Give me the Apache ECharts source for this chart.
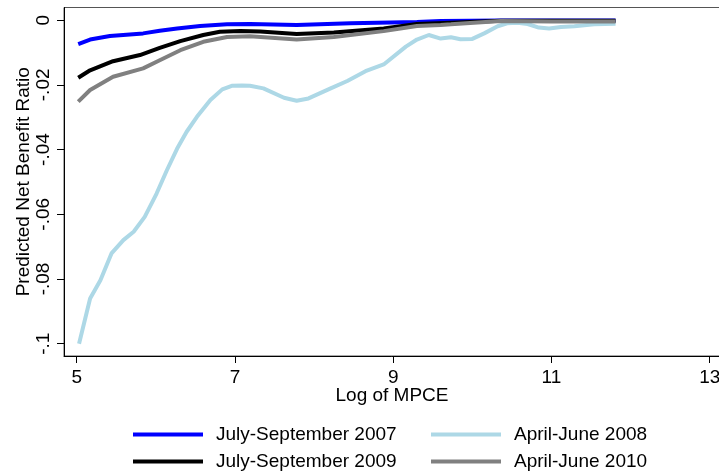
<!DOCTYPE html>
<html>
<head>
<meta charset="utf-8">
<script src="https://cdn.jsdelivr.net/npm/echarts@6/dist/echarts.min.js"></script>
<style>
  html, body { margin: 0; padding: 0; background: #fff; }
  #chart { width: 719px; height: 474px; }
</style>
</head>
<body>
<div id="chart"></div>
<script>
// predicted net benefit ratio against log of MPCE, four survey rounds

var seriesNames = ['July-September 2007', 'April-June 2008', 'July-September 2009', 'April-June 2010'];

var x2007 = [5.02, 5.17, 5.42, 5.84, 6.05, 6.27, 6.56, 6.90, 7.19, 7.78, 8.46, 9.30, 9.60, 10.36, 11.0, 11.81];
var y2007 = [-0.0074, -0.0060, -0.0049, -0.0041, -0.0033, -0.0026, -0.0018, -0.0013, -0.0012, -0.0015, -0.0010, -0.0006, -0.0003, -0.0001, -0.0001, -0.0001];

var x2008 = [5.03, 5.17, 5.30, 5.44, 5.59, 5.72, 5.86, 6.01, 6.14, 6.27, 6.39, 6.52, 6.69, 6.84, 6.96, 7.09,
             7.19, 7.36, 7.62, 7.78, 7.93, 8.21, 8.42, 8.65, 8.88, 9.16, 9.30, 9.45, 9.60, 9.73, 9.85, 10.0,
             10.15, 10.32, 10.44, 10.57, 10.70, 10.84, 10.97, 11.12, 11.29, 11.54, 11.81];
var y2008 = [-0.1000, -0.0860, -0.0804, -0.0721, -0.0680, -0.0654, -0.0608, -0.0536, -0.0464, -0.0397, -0.0345, -0.0299, -0.0247, -0.0214, -0.0203, -0.0202,
             -0.0203, -0.0211, -0.0240, -0.0249, -0.0242, -0.0211, -0.0188, -0.0158, -0.0137, -0.0082, -0.0060, -0.0046, -0.0057, -0.0053, -0.0059, -0.0058,
             -0.0041, -0.0019, -0.0010, -0.0008, -0.0012, -0.0023, -0.0026, -0.0021, -0.0019, -0.0013, -0.0011];

var x2009 = [5.02, 5.17, 5.46, 5.80, 6.05, 6.31, 6.60, 6.81, 7.07, 7.32, 7.78, 8.25, 8.88, 9.30, 9.73, 10.36, 11.0, 11.81];
var y2009 = [-0.0178, -0.0155, -0.0127, -0.0108, -0.0086, -0.0065, -0.0046, -0.0036, -0.0034, -0.0035, -0.0043, -0.0038, -0.0026, -0.0012, -0.0008, -0.0002, -0.0002, -0.0002];

var x2010 = [5.02, 5.17, 5.46, 5.84, 6.05, 6.31, 6.60, 6.90, 7.19, 7.78, 8.25, 8.88, 9.30, 9.60, 9.73, 10.36, 11.0, 11.81];
var y2010 = [-0.0252, -0.0216, -0.0175, -0.0149, -0.0124, -0.0093, -0.0067, -0.0052, -0.0050, -0.0060, -0.0052, -0.0034, -0.0018, -0.0015, -0.0013, -0.0003, -0.0004, -0.0004];

var xTicks = [5, 7, 9, 11, 13];
var yTicks = [0, -0.02, -0.04, -0.06, -0.08, -0.1];

var colors = ['#0000ff', '#add8e6', '#000000', '#808080'];
var font = 'Liberation Sans, Arial, Helvetica, sans-serif';

function pairs(xs, ys) {
  return xs.map(function (x, i) { return [x, ys[i]]; });
}

function yLabel(v) {
  if (v === 0) return '0';
  return ('' + v).replace('0.', '.');
}

var allData = [pairs(x2007, y2007), pairs(x2008, y2008), pairs(x2009, y2009), pairs(x2010, y2010)];

// legend slots: two columns, two rows
var legendPos = [
  { left: 133, top: 425 },
  { left: 431, top: 425 },
  { left: 133, top: 452 },
  { left: 431, top: 452 }
];

var myChart = echarts.init(document.getElementById('chart'));
var option = {
  animation: false,
  backgroundColor: '#fff',
  grid: {
    left: 64, top: 7.5, right: -1, bottom: 118,
    outerBoundsMode: 'none',
    containLabel: false,
    show: true, borderColor: '#555', borderWidth: 1
  },
  legend: seriesNames.map(function (n, i) {
    return {
      data: [n],
      left: legendPos[i].left,
      top: legendPos[i].top,
      icon: 'rect',
      itemWidth: 70,
      itemHeight: 4,
      itemGap: 0,
      padding: 0,
      textStyle: { fontSize: 19, color: '#000', fontFamily: font, padding: [0, 0, 0, 8] }
    };
  }),
  xAxis: {
    type: 'value',
    min: 4.84, max: 13.13,
    name: 'Log of MPCE',
    nameLocation: 'middle',
    nameGap: 30,
    nameMoveOverlap: false,
    nameTextStyle: { fontSize: 19, color: '#000', fontFamily: font },
    splitLine: { show: false },
    axisLine: { onZero: false, lineStyle: { color: '#000', width: 1 } },
    axisTick: { customValues: xTicks, length: 7, lineStyle: { color: '#000' } },
    axisLabel: { customValues: xTicks, margin: 12, fontSize: 19, color: '#000', fontFamily: font }
  },
  yAxis: {
    type: 'value',
    min: -0.1038, max: 0.0039,
    name: 'Predicted Net Benefit Ratio',
    nameLocation: 'middle',
    nameRotate: 90,
    nameGap: 31,
    nameMoveOverlap: false,
    nameTextStyle: { fontSize: 19, color: '#000', fontFamily: font },
    splitLine: { show: false },
    axisLine: { show: true, onZero: false, lineStyle: { color: '#000', width: 1 } },
    axisTick: { show: true, customValues: yTicks, length: 7, lineStyle: { color: '#000' } },
    axisLabel: {
      customValues: yTicks, rotate: 90, margin: 11, fontSize: 19, color: '#000', fontFamily: font,
      formatter: yLabel
    }
  },
  series: seriesNames.map(function (n, i) {
    return {
      name: n,
      type: 'line',
      data: allData[i],
      showSymbol: false,
      symbol: 'none',
      lineStyle: { width: 4, color: colors[i] },
      itemStyle: { color: colors[i] },
      z: 2 + i
    };
  })
};
myChart.setOption(option);
</script>
</body>
</html>
